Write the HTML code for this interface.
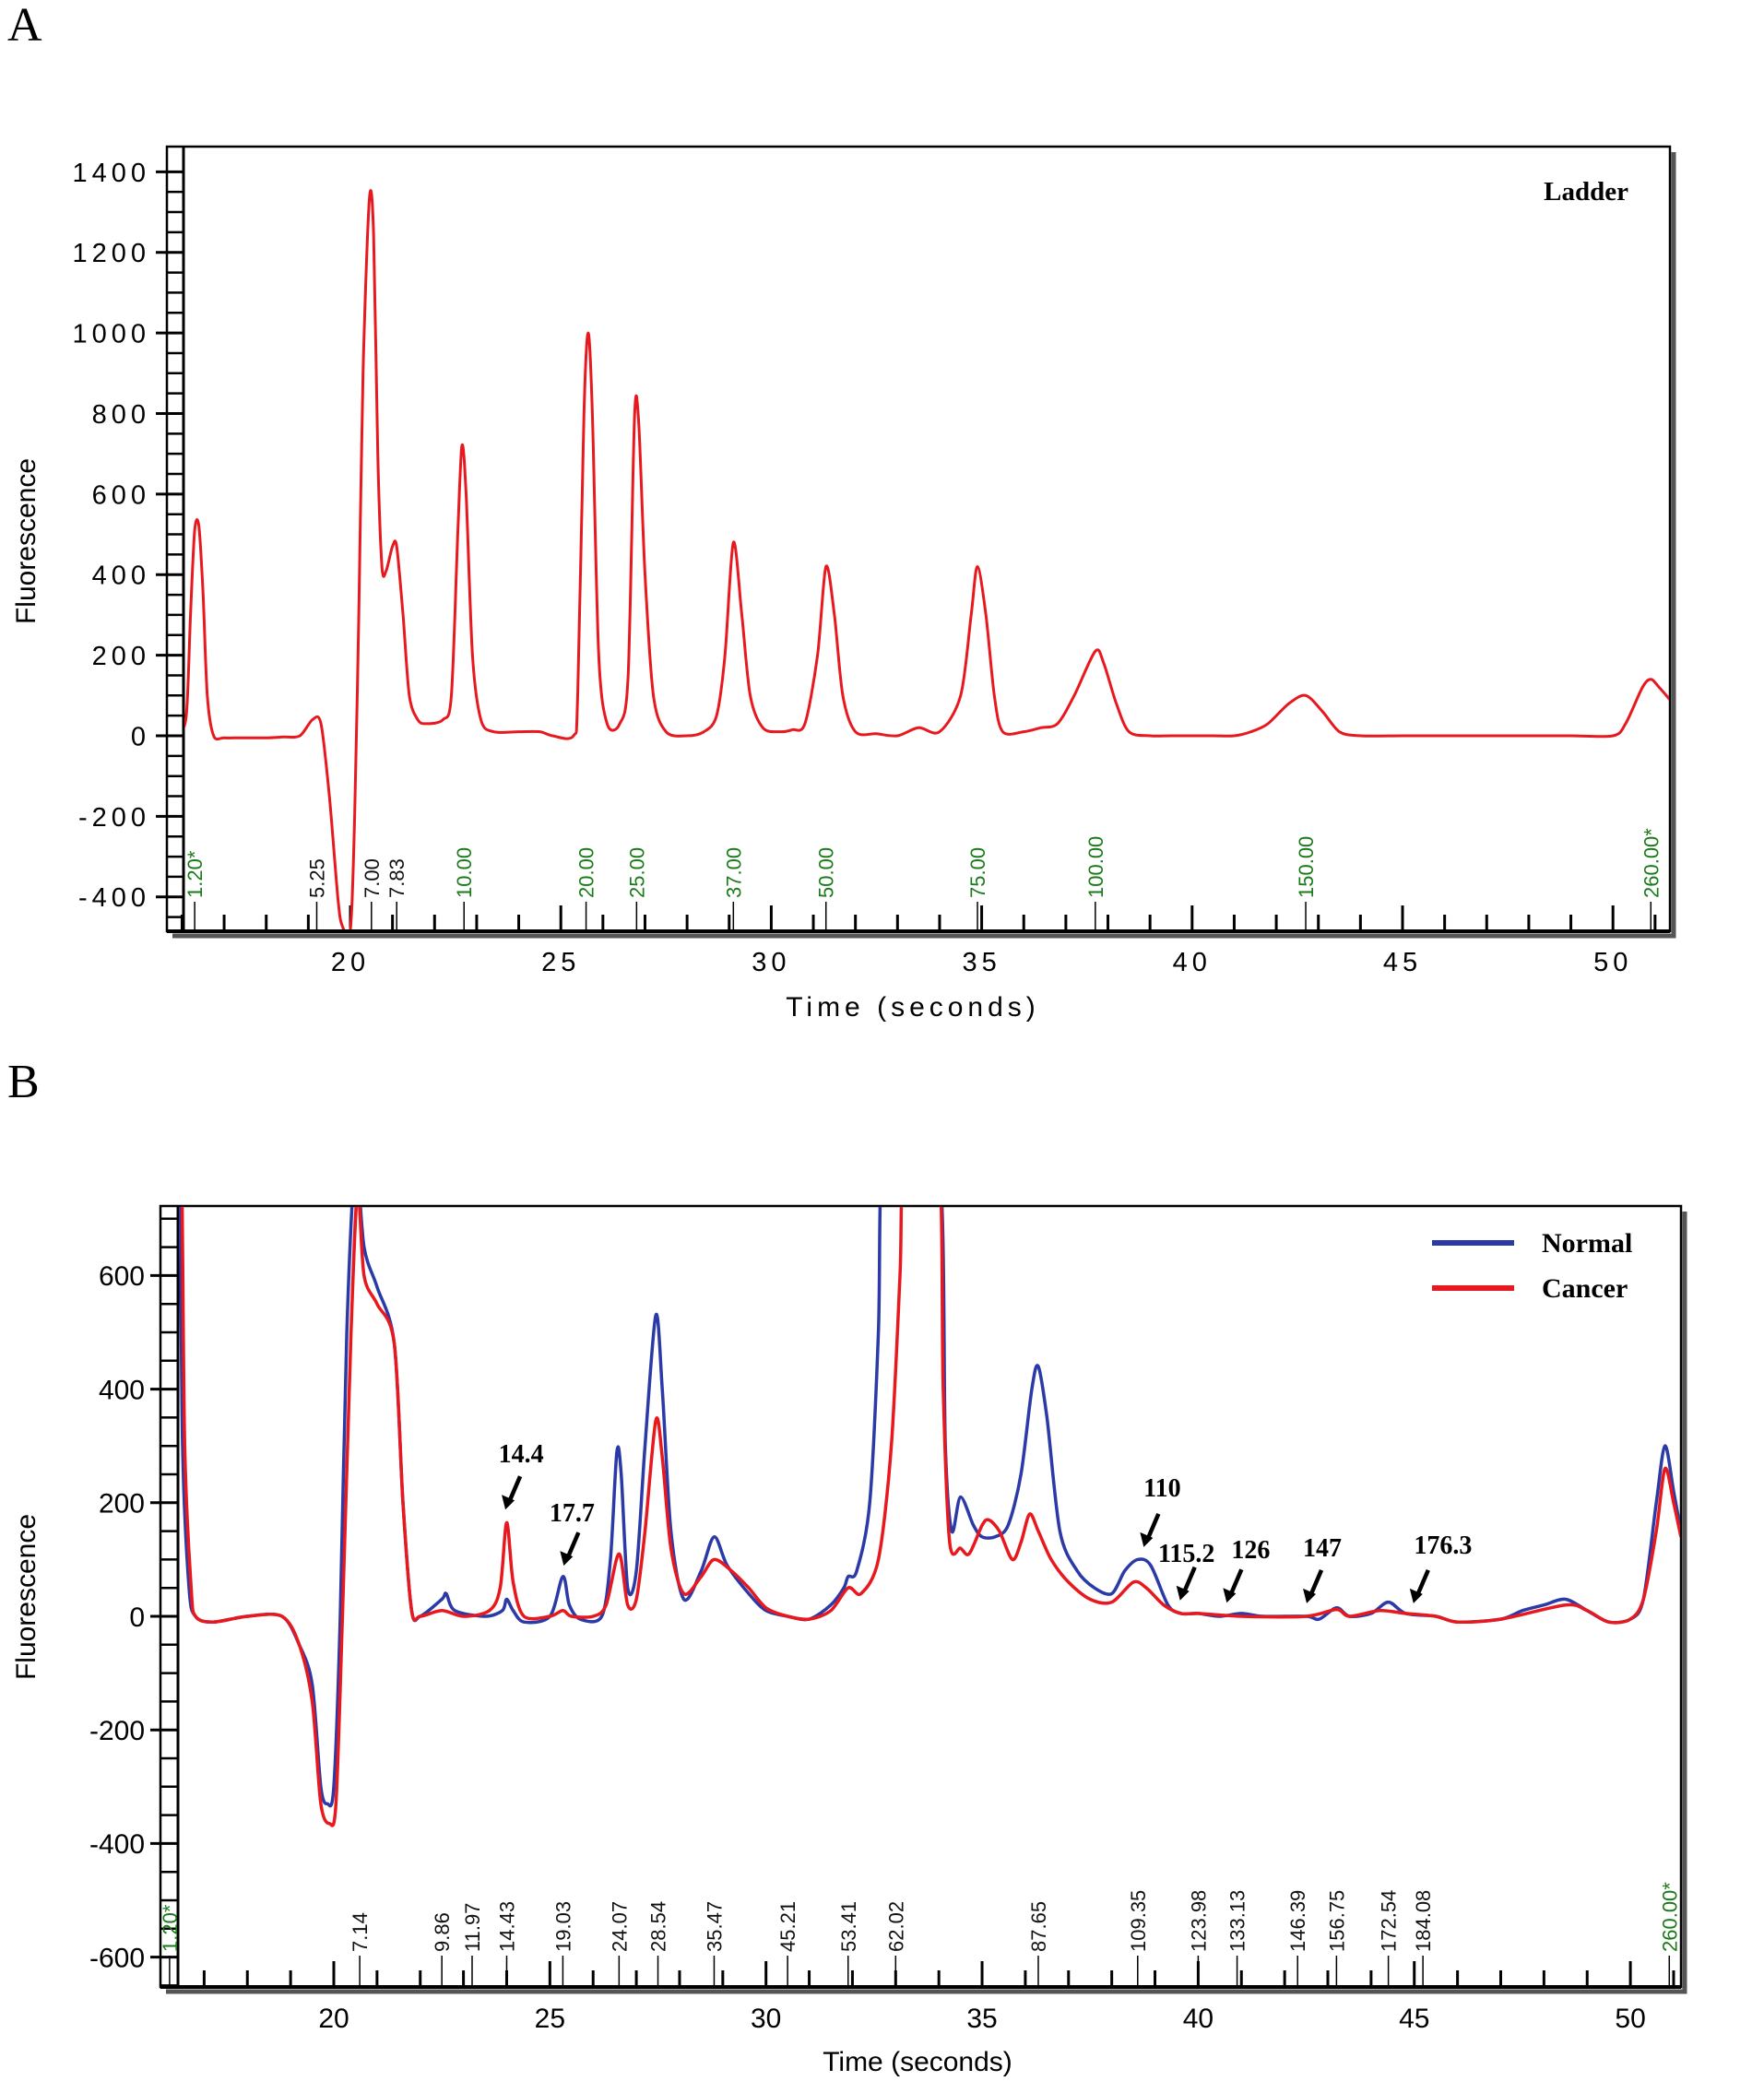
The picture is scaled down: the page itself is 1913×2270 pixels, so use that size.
<!DOCTYPE html>
<html><head><meta charset="utf-8"><style>
html,body{margin:0;padding:0;background:#fff}
svg{display:block}
text{font-family:"Liberation Sans",sans-serif}
.serif{font-family:"Liberation Serif",serif}
</style></head><body>
<svg id="fig" width="1913" height="2270" viewBox="0 0 1913 2270" xmlns="http://www.w3.org/2000/svg">
<defs>
<clipPath id="clipA"><rect x="200" y="160" width="1610" height="848"/></clipPath>
<clipPath id="clipB"><rect x="194" y="1309" width="1628" height="844"/></clipPath>
</defs>
<text x="8" y="44" class="serif" font-size="52">A</text>
<text x="8" y="1190" class="serif" font-size="52">B</text>
<g id="gA"></g>
<g id="gB"></g>
</svg>
<script>
// ---- Panel A data (Ladder) ----
const ladderT=[15.9,16.1,16.2,16.3,16.4,16.5,16.6,16.75,17,17.5,18,18.4,18.8,19.1,19.3,19.5,19.7,19.8,20.0,20.1,20.2,20.3,20.45,20.55,20.65,20.75,20.85,21.0,21.1,21.25,21.4,21.6,21.8,22.2,22.4,22.55,22.65,22.75,22.9,23.1,23.4,24,24.5,24.8,25.3,25.4,25.55,25.65,25.75,25.9,26.1,26.4,26.6,26.75,26.85,27.0,27.2,27.5,28,28.4,28.7,28.9,29.1,29.3,29.5,29.8,30.2,30.5,30.8,31.1,31.3,31.5,31.7,32,32.5,33,33.5,34.0,34.5,34.75,34.9,35.1,35.3,35.5,36,36.4,36.8,37.2,37.7,37.9,38.2,38.5,39,39.5,40,40.5,41,41.4,41.8,42.3,42.7,43.1,43.5,44,45,46,47,48,49,50.0,50.3,50.7,50.9,51.1,51.35];
const ladderV=[0,50,300,510,520,350,100,0,-5,-5,-5,-3,0,40,30,-150,-400,-470,-480,-200,300,900,1330,1250,700,420,410,470,470,300,100,40,30,40,100,500,720,600,200,40,10,10,10,0,0,100,800,1000,800,200,30,30,150,790,780,400,100,10,0,10,50,200,480,300,100,20,10,15,30,200,420,300,100,10,5,0,20,10,100,300,420,300,100,10,10,20,30,100,210,180,80,10,0,0,0,0,0,10,30,80,100,60,10,0,0,0,0,0,0,0,30,120,140,120,90];
const ladderTicksY=[1400,1200,1000,800,600,400,200,0,-200,-400];
const ladderTicksX=[20,25,30,35,40,45,50];
const ladderMarkT=[16.3,19.2,20.5,21.1,22.7,25.6,26.8,29.1,31.3,34.9,37.7,42.7,50.9];
const ladderMarkL=["1.20*","5.25","7.00","7.83","10.00","20.00","25.00","37.00","50.00","75.00","100.00","150.00","260.00*"];
const ladderMarkG=[1,0,0,0,1,1,1,1,1,1,1,1,1];
// ---- Panel B data ----
const normT=[16.0,16.1,16.4,16.5,16.65,16.8,17.2,18.0,18.8,19.2,19.5,19.7,19.85,20.0,20.15,20.3,20.5,20.7,21.0,21.4,21.6,21.8,22.0,22.5,22.6,22.8,23.5,23.9,24.0,24.15,24.4,25.0,25.3,25.45,25.7,26.2,26.4,26.55,26.65,26.8,27.0,27.2,27.45,27.6,27.8,28.1,28.5,28.8,29.1,29.6,30.0,30.5,31,31.5,31.8,31.9,32.1,32.4,32.6,32.7,34.0,34.15,34.3,34.5,34.8,35.0,35.3,35.6,35.9,36.15,36.3,36.5,36.8,37.2,37.6,38.0,38.3,38.6,38.9,39.3,39.6,40.0,40.5,41.0,41.5,42.5,42.8,43.2,43.5,44.0,44.4,44.8,45.5,46.0,47.0,47.5,48.0,48.5,49.0,49.5,50.0,50.3,50.6,50.8,51.0,51.17];
const normV=[500,900,900,300,50,0,-10,0,0,-50,-120,-300,-330,-300,0,500,800,650,580,480,200,10,0,30,40,10,0,10,30,10,-10,0,70,20,-5,0,100,290,250,50,80,300,530,400,150,30,80,140,90,40,10,0,-5,20,50,70,80,200,500,800,800,300,150,210,160,140,140,160,250,400,440,350,150,80,50,40,80,100,90,20,5,5,0,5,0,0,-5,15,0,5,25,5,0,-10,-5,10,20,30,10,-10,-5,30,200,300,220,150];
const cancT=[16.0,16.2,16.45,16.55,16.7,16.8,17.2,18,18.8,19.2,19.5,19.7,19.9,20.05,20.2,20.4,20.55,20.7,21.0,21.4,21.6,21.8,22.0,22.5,23,23.6,23.85,24.0,24.15,24.4,25,25.3,25.5,26,26.3,26.6,26.8,27.0,27.2,27.45,27.6,27.8,28.1,28.5,28.8,29.2,29.6,30,30.5,31,31.5,31.9,32.2,32.6,32.9,33.1,33.2,34.0,34.1,34.25,34.5,34.7,35.0,35.15,35.4,35.7,35.9,36.1,36.3,36.6,37,37.5,38.0,38.5,38.8,39.2,39.6,40,41,42.5,43.2,43.5,44.2,44.8,45.5,46,47,48.5,49,49.5,50,50.3,50.6,50.8,51.0,51.17];
const cancV=[800,900,900,300,50,0,-10,0,0,-50,-150,-330,-365,-330,0,500,750,600,550,480,200,10,0,10,0,10,50,165,60,0,0,10,0,0,20,110,20,30,150,345,280,120,40,70,100,80,50,15,0,-5,10,50,40,100,300,600,800,800,400,130,120,110,160,170,150,100,130,180,150,100,60,30,25,60,50,20,5,5,0,0,12,0,10,5,0,-10,-5,20,10,-10,-5,30,150,260,200,140];
const bTicksY=[600,400,200,0,-200,-400,-600];
const bTicksX=[20,25,30,35,40,45,50];
const bMarkT=[16.2,20.6,22.5,23.2,24.0,25.3,26.6,27.5,28.8,30.5,31.9,33.0,36.3,38.6,40.0,40.9,42.3,43.2,44.4,45.2,50.9];
const bMarkL=["1.20*","7.14","9.86","11.97","14.43","19.03","24.07","28.54","35.47","45.21","53.41","62.02","87.65","109.35","123.98","133.13","146.39","156.75","172.54","184.08","260.00*"];
const bMarkG=[1,0,0,0,0,0,0,0,0,0,0,0,0,0,0,0,0,0,0,0,1];
const annoL=["14.4","17.7","110","115.2","126","147","176.3"];
const annoT=[23.97,25.32,38.74,39.58,40.66,42.51,44.98];
const annoV=[188,89,122,28,24,23,23];

const NS="http://www.w3.org/2000/svg";
function mk(parent,tag,attrs,txt){const e=document.createElementNS(NS,tag);for(const k in attrs)e.setAttribute(k,attrs[k]);if(txt!==undefined)e.textContent=txt;parent.appendChild(e);return e;}

function panel(g,cfg){
  const {left,top,right,bottom,axisX,x,y,yMin,yMax,tMin,tMax}=cfg;
  const sh=mk(g,'path',{d:`M${right+4},${top+6} V${bottom+5} H${left+6}`,stroke:'#555',fill:'none','stroke-width':5});
  
  
  const fr=mk(g,'rect',{x:left,y:top,width:right-left,height:bottom-top,fill:'none',stroke:'#000','stroke-width':2.5});
  
  
  const ya=mk(g,'line',{x1:axisX,y1:top,x2:axisX,y2:bottom,stroke:'#000','stroke-width':3});
  
  
  for(let v=Math.ceil(yMin/50)*50;v<=yMax;v+=50){
    const major=cfg.yTicks.includes(v);
    const t=mk(g,'line',{x1:axisX-(major?30:18),y1:y(v),x2:axisX,y2:y(v),stroke:'#000','stroke-width':major?3:2.5});
    
    
  }
  cfg.yTicks.forEach(v=>{
    const l=mk(g,'text',{x:axisX-36,y:y(v)+cfg.fs*0.36,'text-anchor':'end','font-size':cfg.fs,'letter-spacing':cfg.ls},String(v));
    
    
  });
  const xa=mk(g,'line',{x1:left,y1:bottom,x2:right,y2:bottom,stroke:'#000','stroke-width':4});
  
  
  for(let t=Math.ceil(tMin);t<=tMax;t++){
    const major=t%5===0;
    const k=mk(g,'line',{x1:x(t),y1:bottom,x2:x(t),y2:bottom-(major?28:18),stroke:'#000','stroke-width':3});
    
    
  }
  cfg.xTicks.forEach(t=>{
    const l=mk(g,'text',{x:x(t),y:bottom+cfg.fs+14,'text-anchor':'middle','font-size':cfg.fs,'letter-spacing':cfg.ls},String(t));
    
    
  });
  cfg.markT.forEach((t,i)=>{
    const c=cfg.markG[i]?'#1a7a1a':'#111';
    const ln=mk(g,'line',{x1:x(t),y1:bottom,x2:x(t),y2:bottom-cfg.markLen,stroke:'#000','stroke-width':1.5});
    
    
    const tx=mk(g,'text',{x:0,y:0,transform:`translate(${x(t)+8},${bottom-cfg.markLen-4}) rotate(-90)`,'font-size':cfg.mfs,fill:c},cfg.markL[i]);
    
    
  });
  const xt=mk(g,'text',{x:cfg.xTitleX,y:cfg.xTitleY,'text-anchor':'middle','font-size':cfg.tfs,'letter-spacing':cfg.ls},'Time (seconds)');
  
  
  const yt=mk(g,'text',{x:0,y:0,transform:`translate(38,${cfg.yTitleY}) rotate(-90)`,'text-anchor':'middle','font-size':30},'Fluorescence');
  
  
}
function smooth(T,V,x,y){
  const P=T.map((t,i)=>[x(t),y(V[i])]);
  let d=`M${P[0][0].toFixed(1)},${P[0][1].toFixed(1)}`;
  const k=0.15;
  for(let i=0;i<P.length-1;i++){
    const p0=P[Math.max(0,i-1)],p1=P[i],p2=P[i+1],p3=P[Math.min(P.length-1,i+2)];
    const c1=[p1[0]+(p2[0]-p0[0])*k,p1[1]+(p2[1]-p0[1])*k];
    const c2=[p2[0]-(p3[0]-p1[0])*k,p2[1]-(p3[1]-p1[1])*k];
    c1[0]=Math.min(Math.max(c1[0],p1[0]),p2[0]);
    c2[0]=Math.min(Math.max(c2[0],p1[0]),p2[0]);
    d+=` C${c1[0].toFixed(1)},${c1[1].toFixed(1)} ${c2[0].toFixed(1)},${c2[1].toFixed(1)} ${p2[0].toFixed(1)},${p2[1].toFixed(1)}`;
  }
  return d;
}

// Panel A
(function(){
  const g=document.getElementById('gA');
  const x=t=>380+(t-20)*45.64, y=v=>798-v*0.4369;
  panel(g,{left:181,top:159,right:1811,bottom:1010,axisX:199,x,y,yMin:-450,yMax:1400,tMin:16,tMax:51,
    yTicks:ladderTicksY,xTicks:ladderTicksX,fs:29,ls:5,markT:ladderMarkT,markL:ladderMarkL,markG:ladderMarkG,markLen:32,mfs:22,
    tfs:30,xTitleX:990,xTitleY:1102,yTitleY:587});
  const p=mk(g,'path',{d:smooth(ladderT,ladderV,x,y),fill:'none',stroke:'#e8191e','stroke-width':3,'clip-path':'url(#clipA)'});
  
  
  const lt=mk(g,'text',{x:1766,y:217,'text-anchor':'end','font-size':29,'font-weight':'bold',class:'serif'},'Ladder');
  
  
})();

// Panel B
(function(){
  const g=document.getElementById('gB');
  const x=t=>362+(t-20)*46.87, y=v=>1753-v*0.616;
  panel(g,{left:174,top:1308,right:1823,bottom:2155,axisX:193,x,y,yMin:-650,yMax:700,tMin:17,tMax:51,
    yTicks:bTicksY,xTicks:bTicksX,fs:30,ls:0,markT:bMarkT,markL:bMarkL,markG:bMarkG,markLen:34,mfs:22,
    tfs:30,xTitleX:995,xTitleY:2246,yTitleY:1732});
  const n=mk(g,'path',{d:smooth(normT,normV,x,y),fill:'none',stroke:'#2b3aa6','stroke-width':3.5,'clip-path':'url(#clipB)'});
  
  
  const c=mk(g,'path',{d:smooth(cancT,cancV,x,y),fill:'none',stroke:'#e8191e','stroke-width':3.5,'clip-path':'url(#clipB)'});
  
  
  const l1=mk(g,'line',{x1:1553,y1:1348,x2:1642,y2:1348,stroke:'#2b3aa6','stroke-width':6});
  
  
  const t1=mk(g,'text',{x:1672,y:1358,'font-size':30,'font-weight':'bold',class:'serif'},'Normal');
  
  
  const l2=mk(g,'line',{x1:1553,y1:1397,x2:1642,y2:1397,stroke:'#e8191e','stroke-width':6});
  
  
  const t2=mk(g,'text',{x:1672,y:1407,'font-size':30,'font-weight':'bold',class:'serif'},'Cancer');
  
  
  const ldx=[17,9,20,7,26,17,32], ldy=[-61,-58,-65,-52,-58,-61,-64];
  annoL.forEach((s,i)=>{
    const tx=x(annoT[i]), ty=y(annoV[i]);
    const a=mk(g,'path',{d:`M${tx+16},${ty-36} L${tx+4},${ty-8}`,stroke:'#000','stroke-width':4.5,fill:'none'});
    
    
    const h=mk(g,'polygon',{points:`${tx},${ty} ${tx-4},${ty-16} ${tx+10},${ty-10}`,fill:'#000'});
    
    
    const lb=mk(g,'text',{x:tx+ldx[i],y:ty+ldy[i]+10,'text-anchor':'middle','font-size':28,'font-weight':'bold',class:'serif'},s);
    
    
  });
})();
</script>
</body></html>
